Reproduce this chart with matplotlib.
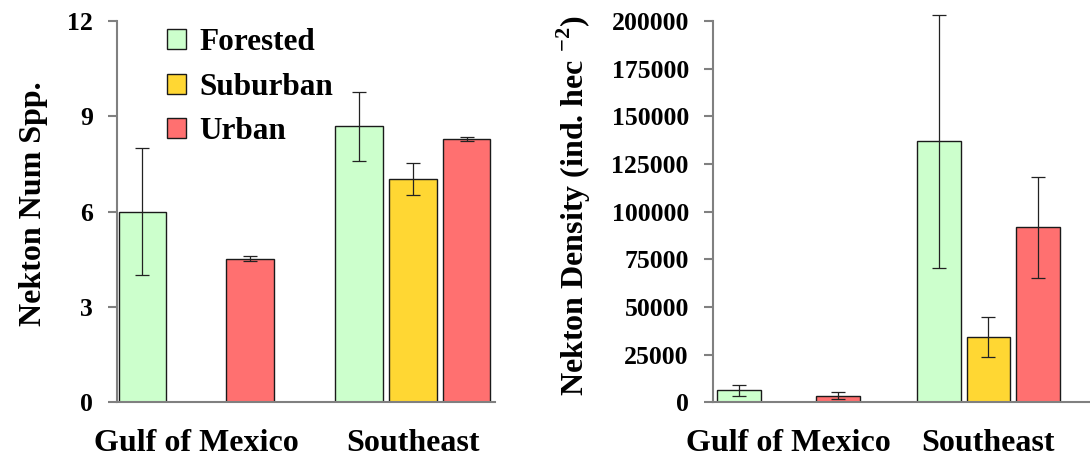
import matplotlib
matplotlib.use("Agg")
import matplotlib.pyplot as plt
import numpy as np

# data
regions = ['Gulf of Mexico', 'Southeast']
landuse = ['Forested', 'Suburban', 'Urban']
colors = ['#CCFFCC', '#FFD733', '#FF7070']

# Nekton number of species (nan = no data)
spp_mean = [[6.0, 8.68], [np.nan, 7.02], [4.52, 8.29]]
spp_err = [[2.0, 1.08], [np.nan, 0.50], [0.07, 0.07]]

# Nekton density (ind. hec^-2)
dens_mean = [[6300, 136900], [np.nan, 34000], [3400, 91700]]
dens_err = [[2800, 66500], [np.nan, 10500], [1800, 26400]]

plt.rcParams['font.family'] = ['Liberation Serif', 'DejaVu Serif']
plt.rcParams['font.weight'] = 'bold'
plt.rcParams['mathtext.fontset'] = 'custom'
plt.rcParams['mathtext.rm'] = 'Liberation Serif:bold'
plt.rcParams['mathtext.bf'] = 'Liberation Serif:bold'

W, H = 1090, 458
fig = plt.figure(figsize=(W / 100, H / 100), dpi=100)
ax1 = fig.add_axes([117 / W, 1 - 402.3 / H, (495 - 117) / W, 381.3 / H])
ax2 = fig.add_axes([712.7 / W, 1 - 402.3 / H, (1090 - 712.7) / W, 381.3 / H])

gray = '#808080'


def draw(ax, means, errs, cat_gap, yticks, ylabel, xlim):
    width = 0.89
    bars = []
    for s in range(3):
        for c in range(2):
            m = means[s][c]
            if np.isnan(m):
                continue
            x = c * cat_gap + s
            b = ax.bar(x, m, width, color=colors[s], edgecolor='#1a1a1a',
                       linewidth=1.0, zorder=2)
            el = ax.errorbar(x, m, yerr=errs[s][c], fmt='none', ecolor='#222222',
                             elinewidth=0.9, capsize=5, capthick=0.9, zorder=3)
            for art in el.lines[1] + el.lines[2]:
                art.set_clip_on(False)
        bars.append(b)
    ax.set_xlim(*xlim)
    ax.set_ylim(yticks[0], yticks[-1])
    ax.set_yticks(yticks)
    ax.set_yticklabels([str(v) for v in yticks], fontsize=18.5, fontweight='bold')
    ax.set_xticks([1, cat_gap + 1])
    ax.set_xticklabels(regions, fontsize=23, fontweight='bold')
    ax.tick_params(axis='x', length=0, pad=19)
    ax.tick_params(axis='y', length=6.7, width=1.5, color=gray, pad=10.5)
    for side in ['top', 'right']:
        ax.spines[side].set_visible(False)
    for side in ['left', 'bottom']:
        ax.spines[side].set_color(gray)
        ax.spines[side].set_linewidth(1.5)
    ax.set_ylabel(ylabel, fontsize=23, fontweight='bold')
    return bars


draw(ax1, spp_mean, spp_err, 4.03, [0, 3, 6, 9, 12], 'Nekton Num Spp.',
     (-0.474, 6.56))
draw(ax2, dens_mean, dens_err, 4.06, list(range(0, 200001, 25000)),
     r'Nekton Density (ind. hec $^{-2}$)', (-0.533, 7.12))

ax1.yaxis.set_label_coords(-0.183, 0.52)
ax2.yaxis.set_label_coords(-0.318, 0.515)

handles = [plt.Rectangle((0, 0), 1, 1, facecolor=c, edgecolor='#1a1a1a', linewidth=1.0)
           for c in colors]
fig.legend(handles, landuse, loc='upper left', bbox_to_anchor=(167 / W, 1 - 28 / H),
           bbox_transform=fig.transFigure, frameon=False, borderpad=0,
           borderaxespad=0, handlelength=0.62, handleheight=0.62,
           handletextpad=0.42, labelspacing=0.5,
           prop={'size': 22.5, 'weight': 'bold'})

fig.savefig('out.png', dpi=100)
